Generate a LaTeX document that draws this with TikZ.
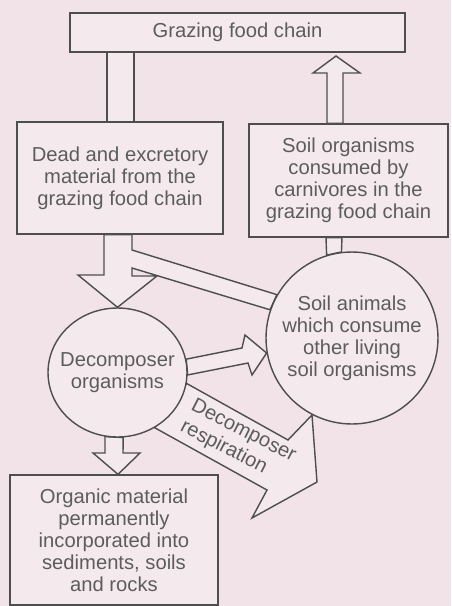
\documentclass[tikz,border=0pt]{standalone}
\usepackage{fontspec}
\setmainfont{Liberation Sans}
\usetikzlibrary{shapes.geometric}
\definecolor{paper}{RGB}{242,227,233}
\definecolor{pale}{RGB}{244,234,238}
\definecolor{ink}{RGB}{78,78,78}
\definecolor{print}{RGB}{92,92,92}
\pgfdeclarelayer{bg}
\pgfdeclarelayer{flows}
\pgfsetlayers{bg,flows,main}

\begin{document}
\begin{tikzpicture}[x=0.02cm, y=-0.02cm,
    font=\fontsize{11.5}{12.5}\selectfont, text=print,
    box/.style={draw=ink, fill=pale, line width=0.8pt, inner sep=0pt, align=center},
    blob/.style={box, ellipse},
    flow/.style={draw=ink, fill=pale, line width=0.8pt}]

  \begin{pgfonlayer}{bg}
    \fill[paper] (0,0) rectangle (451,606);
  \end{pgfonlayer}
  \useasboundingbox (0,0) rectangle (451,606);

  \node[box, minimum width=6.7cm, minimum height=0.78cm] (graze) at (237.5,32.5) {Grazing food chain};
  \node[box, minimum width=4.12cm, minimum height=2.24cm] (dead) at (120,178)
    {Dead and excretory\\material from the\\grazing food chain};
  \node[box, minimum width=3.98cm, minimum height=2.26cm] (soil) at (348.5,180.5)
    {Soil organisms\\consumed by\\carnivores in the\\grazing food chain};
  \node[blob, minimum width=3.44cm, minimum height=3.44cm,
    label={[align=center]center:Soil animals\\which consume\\other living\\soil organisms}]
    (animals) at (352,338) {};
  \node[blob, minimum width=2.78cm, minimum height=2.58cm,
    label={[align=center]center:Decomposer\\organisms}]
    (decomp) at (117.5,372.5) {};
  \node[box, minimum width=4.16cm, minimum height=2.6cm] (organic) at (114,540)
    {Organic material\\permanently\\incorporated into\\sediments, soils\\and rocks};

  \node[rotate=-27, align=left, font=\fontsize{11.5}{13.5}\selectfont] (resp) at (238,442)
    {Decomposer\\respiration};

  \begin{pgfonlayer}{flows}
    \path[flow] (graze.south -| 107,0) -- (dead.north -| 107,0)
      -- (dead.north -| 134,0) -- (graze.south -| 134,0) -- cycle;
    \path[flow] (dead.south -| 104,0) -- (104,275) -- (78,275) -- (decomp.north)
      -- (157,276) -- (132,276) -- (132,268) -- (animals.161) -- (animals.150)
      -- (132,250) -- (dead.south -| 132,0) -- cycle;
    \path[flow] (soil.north -| 327,0) -- (327,73) -- (313,73) -- (336,56)
      -- (360,73) -- (343,73) -- (soil.north -| 343,0) -- cycle;
    \path[flow] (soil.south -| 326,0) -- (animals.107) -- (animals.97)
      -- (soil.south -| 342,0) -- cycle;
    \path[flow] (decomp.11) -- (242,348) -- (245,335) -- (animals.190)
      -- (252,375) -- (248,363) -- (decomp.-2) -- cycle;
    \path[flow] (decomp.-9) -- (288,440) -- (312,415) -- (317,482)
      -- (252,518) -- (267,490) -- (decomp.-56) -- cycle;
    \path[flow] (decomp.259) -- (105,453) -- (93,453) -- (organic.north -| 118,0)
      -- (140,453) -- (123,453) -- (decomp.275) -- cycle;
  \end{pgfonlayer}
\end{tikzpicture}
\end{document}
